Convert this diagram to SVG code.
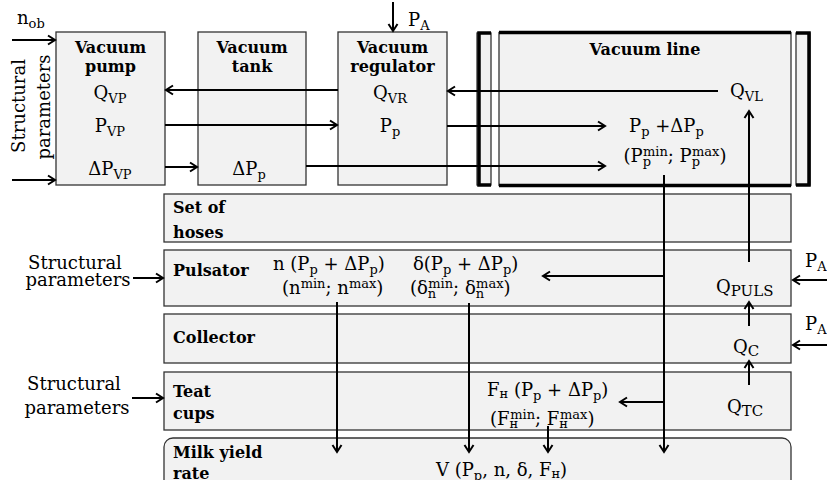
<svg xmlns="http://www.w3.org/2000/svg" width="827" height="480" viewBox="0 0 827 480">
<style>
.box{fill:#f2f2f2;stroke:#333;stroke-width:1.3}
.t{font-family:"DejaVu Serif",serif;font-size:18px;fill:#000}
.b{font-family:"DejaVu Serif",serif;font-size:16px;font-weight:bold;fill:#000}
.s{font-size:13px}
.c{fill:none;stroke:#000;stroke-width:2}
.br{fill:none;stroke:#000;stroke-width:3.5}
</style>
<defs>
<marker id="a" markerWidth="12" markerHeight="12" refX="10" refY="6" orient="auto" markerUnits="userSpaceOnUse">
<path d="M3,1.5 L10,6 L3,10.5" fill="none" stroke="#000" stroke-width="2"/>
</marker>
</defs>
<rect width="827" height="480" fill="#fff"/>

<g id="vacuum-pump">
<rect class="box" x="56" y="32" width="109" height="153"/>
<text class="b" x="110.5" y="53" text-anchor="middle">Vacuum</text>
<text class="b" x="110.5" y="72" text-anchor="middle">pump</text>
<text class="t" x="110" y="99" text-anchor="middle">Q<tspan class="s" dy="4">VP</tspan></text>
<text class="t" x="110" y="132" text-anchor="middle">P<tspan class="s" dy="4">VP</tspan></text>
<text class="t" x="110" y="175" text-anchor="middle">ΔP<tspan class="s" dy="4">VP</tspan></text>
</g>

<g id="vacuum-tank">
<rect class="box" x="198" y="32" width="108" height="153"/>
<text class="b" x="252" y="53" text-anchor="middle">Vacuum</text>
<text class="b" x="252" y="72" text-anchor="middle">tank</text>
<text class="t" x="249" y="175" text-anchor="middle">ΔP<tspan class="s" dy="4">p</tspan></text>
</g>

<g id="vacuum-regulator">
<rect class="box" x="338" y="32" width="109" height="153"/>
<text class="b" x="392.5" y="53" text-anchor="middle">Vacuum</text>
<text class="b" x="392.5" y="72" text-anchor="middle">regulator</text>
<text class="t" x="390" y="99" text-anchor="middle">Q<tspan class="s" dy="4">VR</tspan></text>
<text class="t" x="390" y="132" text-anchor="middle">P<tspan class="s" dy="4">p</tspan></text>
</g>

<g id="vacuum-line">
<rect class="box" x="477" y="33" width="14" height="152" stroke="#555" stroke-width="1"/>
<path class="br" d="M491,33 H479 V185 H491"/>
<rect class="box" x="499" y="32.5" width="292" height="153" stroke="#555" stroke-width="1"/>
<path class="br" d="M499,32.5 H791 M499,185.5 H791" stroke-width="3"/>
<rect class="box" x="796" y="33" width="14" height="152" stroke="#555" stroke-width="1"/>
<path class="br" d="M796,33 H809 V185 H796"/>
<text class="b" x="645" y="55" text-anchor="middle">Vacuum line</text>
<text class="t" x="730" y="97">Q<tspan class="s" dy="4">VL</tspan></text>
<text class="t" x="629" y="132">P<tspan class="s" dy="4">p</tspan><tspan dy="-4"> +ΔP</tspan><tspan class="s" dy="4">p</tspan></text>
<text class="t" x="675" y="162" text-anchor="middle">(P<tspan class="s" dy="4">p</tspan><tspan class="s" dx="-8" dy="-10">min</tspan><tspan dy="6">; P</tspan><tspan class="s" dy="4">p</tspan><tspan class="s" dx="-8" dy="-10">max</tspan><tspan dy="6">)</tspan></text>
</g>

<g id="set-of-hoses">
<rect class="box" x="164" y="194" width="627" height="48"/>
<text class="b" x="173" y="213">Set of</text>
<text class="b" x="173" y="238">hoses</text>
</g>

<g id="pulsator">
<rect class="box" x="164" y="250" width="627" height="56"/>
<text class="b" x="173" y="276">Pulsator</text>
<text class="t" x="273" y="270">n (P<tspan class="s" dy="4">p</tspan><tspan dy="-4"> + ΔP</tspan><tspan class="s" dy="4">p</tspan><tspan dy="-4">)</tspan></text>
<text class="t" x="282" y="294">(n<tspan class="s" dy="-6">min</tspan><tspan dy="6">; n</tspan><tspan class="s" dy="-6">max</tspan><tspan dy="6">)</tspan></text>
<text class="t" x="413" y="270">δ(P<tspan class="s" dy="4">p</tspan><tspan dy="-4"> + ΔP</tspan><tspan class="s" dy="4">p</tspan><tspan dy="-4">)</tspan></text>
<text class="t" x="410" y="294">(δ<tspan class="s" dy="4">n</tspan><tspan class="s" dx="-8" dy="-10">min</tspan><tspan dy="6">; δ</tspan><tspan class="s" dy="4">n</tspan><tspan class="s" dx="-8" dy="-10">max</tspan><tspan dy="6">)</tspan></text>
<text class="t" x="716" y="293">Q<tspan font-size="15" dy="3">PULS</tspan></text>
</g>

<g id="collector">
<rect class="box" x="164" y="314" width="627" height="49"/>
<text class="b" x="173" y="343">Collector</text>
<text class="t" x="733" y="353">Q<tspan font-size="15" dy="3">C</tspan></text>
</g>

<g id="teat-cups">
<rect class="box" x="164" y="372" width="627" height="58"/>
<text class="b" x="173" y="397">Teat</text>
<text class="b" x="173" y="419">cups</text>
<text class="t" x="487" y="396">F<tspan class="s" dy="2">н</tspan><tspan dy="-2"> (P</tspan><tspan class="s" dy="4">p</tspan><tspan dy="-4"> + ΔP</tspan><tspan class="s" dy="4">p</tspan><tspan dy="-4">)</tspan></text>
<text class="t" x="490" y="425">(F<tspan class="s" dy="3">н</tspan><tspan class="s" dx="-8" dy="-9">min</tspan><tspan dy="6">; F</tspan><tspan class="s" dy="3">н</tspan><tspan class="s" dx="-8" dy="-9">max</tspan><tspan dy="6">)</tspan></text>
<text class="t" x="727" y="413">Q<tspan font-size="15" dy="3">TC</tspan></text>
</g>

<g id="milk-yield-rate">
<rect class="box" x="164" y="438" width="627" height="70" rx="9"/>
<text class="b" x="173" y="458">Milk yield</text>
<text class="b" x="173" y="479">rate</text>
<text class="t" x="436" y="476">V (P<tspan class="s" dy="4">p</tspan><tspan dy="-4">, n, δ, F</tspan><tspan class="s" dy="2">н</tspan><tspan dy="-2">)</tspan></text>
</g>

<g id="inputs">
<text class="t" x="17" y="24">n<tspan class="s" dy="4">ob</tspan></text>
<text class="t" transform="translate(25,106) rotate(-90)" text-anchor="middle" font-size="19.5">Structural</text>
<text class="t" transform="translate(50,107) rotate(-90)" text-anchor="middle" font-size="19.5">parameters</text>
<text class="t" x="408" y="26">P<tspan class="s" dy="4">A</tspan></text>
<text class="t" x="75" y="269" text-anchor="middle">Structural</text>
<text class="t" x="78" y="286" text-anchor="middle">parameters</text>
<text class="t" x="805" y="267">P<tspan class="s" dy="4">A</tspan></text>
<text class="t" x="805" y="330">P<tspan class="s" dy="4">A</tspan></text>
<text class="t" x="74" y="390" text-anchor="middle">Structural</text>
<text class="t" x="77" y="414" text-anchor="middle">parameters</text>
</g>

<g id="connectors" class="c">
<path class="c" d="M12,40 H55" marker-end="url(#a)"/>
<path class="c" d="M12,180 H55" marker-end="url(#a)"/>
<path class="c" d="M338,90 H166" marker-end="url(#a)"/>
<path class="c" d="M165,125 H337" marker-end="url(#a)"/>
<path class="c" d="M165,167 H197" marker-end="url(#a)"/>
<path class="c" d="M306,166 H605" marker-end="url(#a)"/>
<path class="c" d="M393,2 V31" marker-end="url(#a)"/>
<path class="c" d="M718,91 H448" marker-end="url(#a)"/>
<path class="c" d="M447,126 H605" marker-end="url(#a)"/>
<path class="c" d="M749,262 V111" marker-end="url(#a)"/>
<path class="c" d="M664,175 V452" marker-end="url(#a)"/>
<path class="c" d="M664,276 H543" marker-end="url(#a)"/>
<path class="c" d="M664,402 H620" marker-end="url(#a)"/>
<path class="c" d="M337,302 V452" marker-end="url(#a)"/>
<path class="c" d="M469,303 V452" marker-end="url(#a)"/>
<path class="c" d="M548,426 V452" marker-end="url(#a)"/>
<path class="c" d="M749,326 V302" marker-end="url(#a)"/>
<path class="c" d="M749,385 V361" marker-end="url(#a)"/>
<path class="c" d="M827,280 H793" marker-end="url(#a)"/>
<path class="c" d="M827,345 H793" marker-end="url(#a)"/>
<path class="c" d="M133,278 H163" marker-end="url(#a)"/>
<path class="c" d="M132,398 H163" marker-end="url(#a)"/>
</g>
</svg>
